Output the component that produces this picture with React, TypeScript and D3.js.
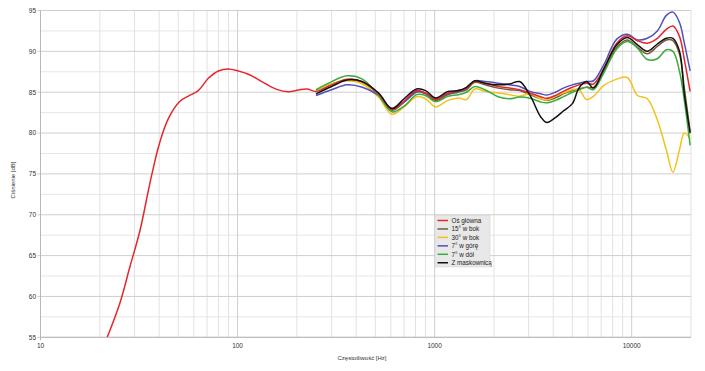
import React from "react";
import * as d3 from "d3";

const W = 705;
const H = 371;

const yTicks = [55, 60, 65, 70, 75, 80, 85, 90, 95];
const xTickLabels = [10, 100, 1000, 10000];

const seriesNames = ["Oś główna", "15° w bok", "30° w bok", "7° w górę", "7° w dół", "Z maskownicą"];
const seriesColors = ["#e5262c", "#7b5a3a", "#f2c21c", "#5150b8", "#3aad3a", "#111111"];

const lowFreq = [21.8, 25.3, 28.4, 32, 35.9, 40.1, 44.6, 50.7, 56, 63.2, 71.1, 79.9, 89.8, 101, 113.5, 135, 158, 181, 204, 225];
const lowMain = [55, 59.2, 63.6, 68.1, 73.85, 78.7, 81.8, 83.84, 84.5, 85.2, 86.7, 87.6, 87.84, 87.6, 87.2, 86.2, 85.35, 85.06, 85.27, 85.4];

const freq = [250, 300, 360, 430, 520, 607, 700, 810, 900, 1010, 1170, 1320, 1450, 1600, 1800, 2100, 2400, 2700, 3050, 3450, 3700, 4100, 4500, 5000, 5400, 5900, 6400, 7200, 8400, 9500, 10700, 12000, 13500, 15000, 16200, 17500, 18500, 19800];

const mainAxis = [85.1, 85.9, 86.6, 86.3, 84.8, 82.9, 83.9, 85.2, 84.9, 84.1, 84.9, 85.2, 85.5, 86.3, 86.1, 85.7, 85.5, 85.3, 84.9, 84.45, 84.25, 84.6, 85.1, 85.6, 85.9, 86.1, 86.0, 87.8, 91.0, 91.9, 91.3, 91.0, 91.6, 92.7, 93.1, 91.8, 89.0, 85.1];
const side15 = [85.2, 86.0, 86.5, 86.2, 84.7, 82.8, 83.8, 85.1, 84.8, 84.0, 84.7, 85.0, 85.3, 86.2, 85.9, 85.5, 85.3, 85.2, 84.7, 84.2, 84.0, 84.3, 84.8, 85.2, 85.4, 85.6, 85.6, 87.5, 90.5, 91.4, 90.5, 89.7, 90.6, 91.4, 91.3, 89.6, 85.5, 80.2];
const side30 = [85.2, 86.0, 86.4, 86.0, 84.4, 82.3, 83.2, 84.45, 84.2, 83.2, 84.0, 84.3, 84.1, 85.4, 85.1, 84.9, 84.7, 84.5, 84.8, 84.2, 84.05, 84.5, 84.9, 85.3, 85.3, 84.1, 84.5, 85.8, 86.6, 86.8, 84.6, 84.2, 81.6, 77.9, 75.2, 78.0, 80.0, 79.3];
const up7 = [84.6, 85.3, 85.9, 85.6, 84.6, 83.0, 83.8, 85.0, 84.9, 84.2, 84.8, 85.1, 85.5, 86.4, 86.3, 86.1, 85.9, 85.7, 85.1, 84.8, 84.65, 85.0, 85.5, 85.9, 86.1, 86.3, 86.4, 88.3, 91.5, 92.1, 91.4, 91.6, 92.5, 94.4, 94.8, 93.5, 91.0, 87.6];
const down7 = [85.3, 86.3, 87.0, 86.6, 84.6, 82.6, 83.3, 84.7, 84.6, 83.85, 84.5, 84.7, 85.0, 85.7, 85.3, 84.45, 84.2, 84.4, 84.25, 83.8, 83.7, 84.0, 84.45, 85.0, 85.3, 85.6, 85.3, 87.3, 90.3, 91.2, 90.4, 89.0, 89.1, 90.2, 90.0, 87.5, 84.0, 78.5];
const grille = [84.8, 85.7, 86.5, 86.3, 84.9, 83.0, 84.2, 85.4, 85.2, 84.3, 85.1, 85.2, 85.6, 86.4, 86.1, 85.9, 86.0, 86.3, 84.6, 82.0, 81.3, 81.9, 82.7, 83.6, 85.5, 86.3, 85.5, 87.8, 90.8, 91.7, 90.8, 90.0, 90.9, 91.6, 91.6, 90.0, 84.8, 80.0];

const x = d3.scaleLog().domain([10, 20000]).range([40.5, 691]);
const y = d3.scaleLinear().domain([55, 95]).range([337.3, 10.5]);

const seriesValues = [mainAxis, side15, side30, up7, down7, grille];

function buildPoints(i: number): [number, number][] {
  const pts: [number, number][] = [];
  if (i === 0) lowFreq.forEach((f, k) => pts.push([f, lowMain[k]]));
  freq.forEach((f, k) => pts.push([f, seriesValues[i][k]]));
  return pts;
}

const line = d3
  .line<[number, number]>()
  .x((d) => x(d[0]))
  .y((d) => y(d[1]))
  .curve(d3.curveCatmullRom.alpha(0.5));

const minorFreqs: number[] = [];
[10, 100, 1000, 10000].forEach((dec) => {
  for (let m = 2; m <= 9; m++) {
    const f = dec * m;
    if (f <= 20000) minorFreqs.push(f);
  }
});
const minorDb = d3.range(57.5, 95, 5);

const font = "'Liberation Sans', Arial, sans-serif";

export default function App() {
  const x0 = x.range()[0];
  const x1 = x.range()[1];
  const drawOrder = [1, 2, 3, 4, 0, 5];
  return (
    <svg width={W} height={H} style={{ position: "absolute", left: 0, top: 0, background: "#fff" }}>
      <defs>
        <clipPath id="plot">
          <rect x={x0} y={y(95)} width={x1 - x0} height={y(55) - y(95)} />
        </clipPath>
      </defs>
      <rect width={W} height={H} fill="#fff" />
      {minorDb.map((d) => (
        <line key={"hm" + d} x1={x0} x2={x1} y1={y(d)} y2={y(d)} stroke="#e6e6e6" strokeWidth={1} />
      ))}
      {minorFreqs.map((f) => (
        <line key={"vm" + f} x1={x(f)} x2={x(f)} y1={y(95)} y2={y(55)} stroke="#e2e2e2" strokeWidth={1} />
      ))}
      {xTickLabels.map((f) => (
        <line key={"vM" + f} x1={x(f)} x2={x(f)} y1={y(95)} y2={y(55)} stroke="#cfcfcf" strokeWidth={1} />
      ))}
      {yTicks.map((d) => (
        <line key={"hM" + d} x1={x0 - 3} x2={x1} y1={y(d)} y2={y(d)} stroke="#cfcfcf" strokeWidth={1} />
      ))}
      <line x1={x0} x2={x0} y1={y(95)} y2={y(55) + 3} stroke="#b8b8b8" />
      <line x1={x0} x2={x1} y1={y(55)} y2={y(55)} stroke="#b8b8b8" />
      {yTicks.map((d) => (
        <text key={"yt" + d} x={36} y={y(d) + 2.3} fontSize={6.5} fontFamily={font} fill="#333" textAnchor="end">
          {d}
        </text>
      ))}
      {xTickLabels.map((f) => (
        <text key={"xt" + f} x={x(f)} y={348} fontSize={6.5} fontFamily={font} fill="#333" textAnchor="middle">
          {f}
        </text>
      ))}
      <text
        x={0}
        y={0}
        transform={`translate(14.5,180) rotate(-90)`}
        fontSize={6}
        fontFamily={font}
        fill="#333"
        textAnchor="middle"
      >
        Ciśnienie [dB]
      </text>
      <text x={362} y={360} fontSize={6} fontFamily={font} fill="#333" textAnchor="middle">
        Częstotliwość [Hz]
      </text>
      <g clipPath="url(#plot)">
        {drawOrder.map((i) => (
          <path
            key={"s" + i}
            d={line(buildPoints(i)) || ""}
            fill="none"
            stroke={seriesColors[i]}
            strokeWidth={1.5}
            strokeLinejoin="round"
          />
        ))}
      </g>
      <g>
        <rect x={435} y={215.5} width={55} height={51.5} fill="#e8e8e8" stroke="#d4d4d4" strokeWidth={0.6} />
        {seriesNames.map((n, i) => (
          <g key={"lg" + i}>
            <line
              x1={437.5}
              x2={448}
              y1={220.5 + i * 8.45}
              y2={220.5 + i * 8.45}
              stroke={seriesColors[i]}
              strokeWidth={1.5}
            />
            <text x={451.5} y={222.7 + i * 8.45} fontSize={6.3} fontFamily={font} fill="#222">
              {n}
            </text>
          </g>
        ))}
      </g>
    </svg>
  );
}
